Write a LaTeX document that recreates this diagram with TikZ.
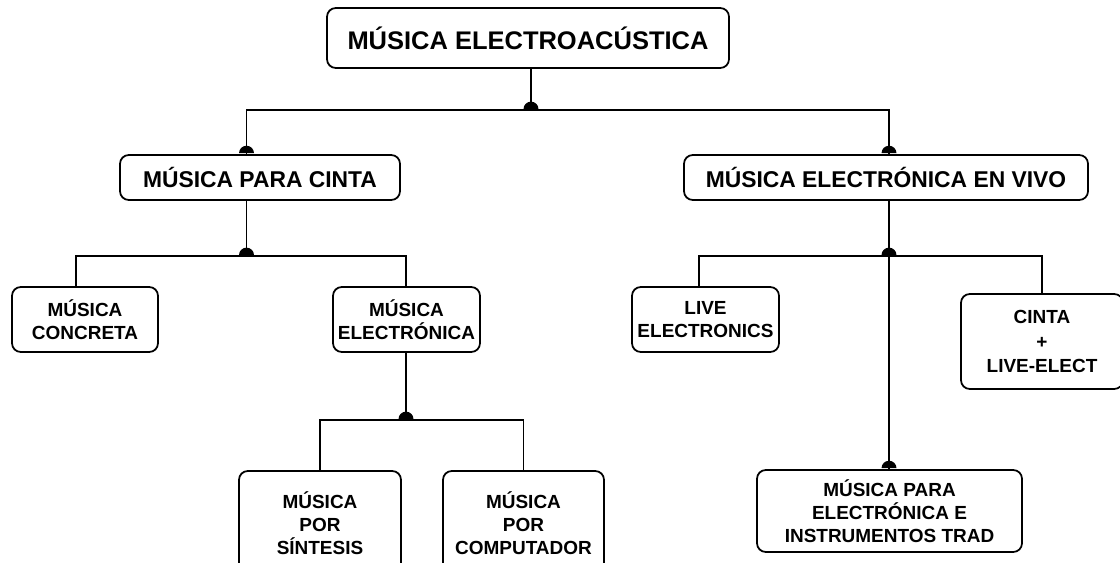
\documentclass[tikz,border=0pt]{standalone}
\usepackage{fontspec}
\setmainfont{Liberation Sans}
\usetikzlibrary{shapes.geometric}

\begin{document}
\begin{tikzpicture}[line width=1pt]
\tikzset{root/.style={rectangle, rounded corners=5pt, draw, font=\fontsize{14.5}{17}\selectfont\bfseries, minimum width=8.04cm, minimum height=1.2cm}}
\tikzset{branch/.style={rectangle, rounded corners=5pt, draw, font=\fontsize{13}{15}\selectfont\bfseries, minimum height=0.9cm}}
\tikzset{leaf/.style={rectangle, rounded corners=5pt, draw, align=center, inner sep=1pt, font=\fontsize{10.8}{13}\selectfont\bfseries}}
\tikzset{junction/.style={semicircle, fill, draw=none, inner sep=0pt, minimum size=0.15cm, anchor=chord center}}
\useasboundingbox (0,0) rectangle (22.4,-11.26);
\node[root] (root) at (10.56,-0.76) {MÚSICA ELECTROACÚSTICA};
\node[branch, minimum width=5.6cm] (cinta) at (5.2,-3.55) {MÚSICA PARA CINTA};
\node[branch, minimum width=8.08cm] (vivo) at (17.72,-3.55) {MÚSICA ELECTRÓNICA EN VIVO};
\node[leaf, minimum width=2.92cm, minimum height=1.3cm] (concreta) at (1.7,-6.39) {MÚSICA\\CONCRETA};
\node[leaf, minimum width=2.94cm, minimum height=1.3cm] (electronica) at (8.13,-6.39) {MÚSICA\\ELECTRÓNICA};
\node[leaf, minimum width=3.24cm, minimum height=2.08cm] (sintesis) at (6.4,-10.46) {MÚSICA\\POR\\SÍNTESIS};
\node[leaf, minimum width=3.22cm, minimum height=2.08cm] (computador) at (10.47,-10.46) {MÚSICA\\POR\\COMPUTADOR};
\node[leaf, minimum width=2.94cm, minimum height=1.3cm] (liveelec) at (14.11,-6.39) {LIVE\\ELECTRONICS};
\node[leaf, minimum width=3.24cm, minimum height=1.9cm, font=\fontsize{10.8}{14}\selectfont\bfseries] (cintalive) at (20.84,-6.83) {CINTA\\+\\LIVE-ELECT};
\node[leaf, minimum width=5.3cm, minimum height=1.64cm] (trad) at (17.79,-10.22) {MÚSICA PARA\\ELECTRÓNICA E\\INSTRUMENTOS TRAD};
% junctions of the tree
\coordinate (j0) at (10.62,-2.2);
\coordinate (j1) at (4.93,-5.12);
\coordinate (j2) at (17.78,-5.12);
\coordinate (j3) at (8.12,-8.4);
\coordinate (k1) at (1.52,-5.12);
\coordinate (k2) at (13.98,-5.12);
% connectors
\draw (root.south -| j0) -- (j0);
\draw (cinta.north -| j1) |- (j0) -| (vivo.north -| j2);
\draw (cinta.south -| j1) -- (j1);
\draw (concreta.north -| k1) |- (j1) -| (electronica.north -| j3);
\draw (electronica.south -| j3) -- (j3);
\draw (sintesis.north) |- (j3) -| (computador.north);
\draw (vivo.south -| j2) -- (trad.north -| j2);
\draw (liveelec.north -| k2) |- (j2) -| (cintalive.north);
% dots
\node[junction] at (j0) {};
\node[junction] at (cinta.north -| j1) {};
\node[junction] at (vivo.north -| j2) {};
\node[junction] at (j1) {};
\node[junction] at (j2) {};
\node[junction] at (j3) {};
\node[junction] at (trad.north -| j2) {};
\end{tikzpicture}
\end{document}
